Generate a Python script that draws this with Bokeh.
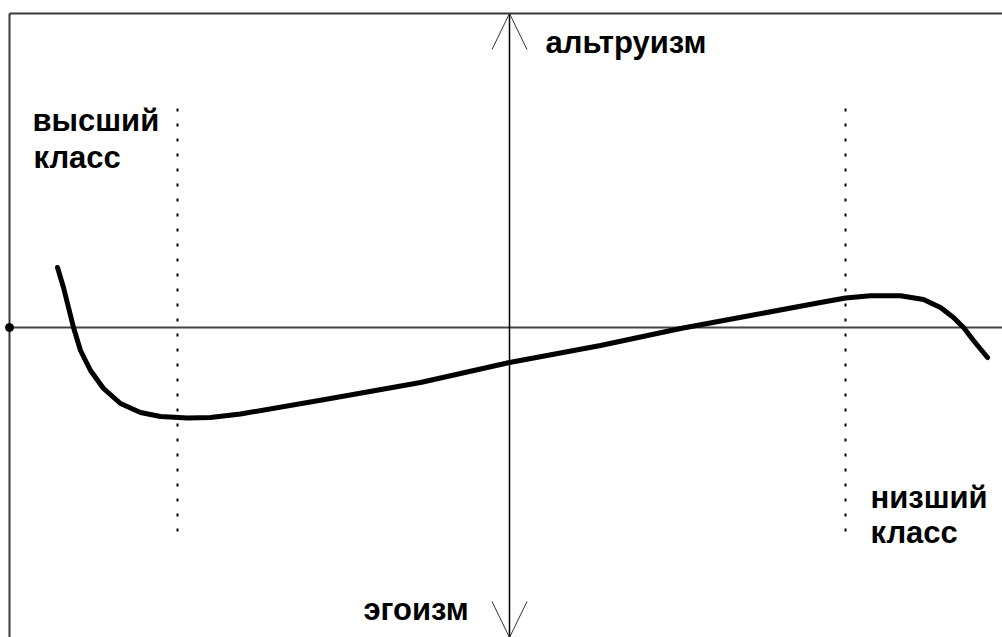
from bokeh.plotting import figure
from bokeh.models import Range1d, ColumnDataSource
from bokeh.core.properties import value
from bokeh.embed import file_html
from bokeh.resources import INLINE

# ---- data (abstract units: vertical axis at x=0, horizontal axis at y=0) ----
curve_x = [-4.52, -4.46, -4.41, -4.36, -4.29, -4.19, -4.06, -3.89, -3.69, -3.49,
           -3.22, -2.99, -2.69, -1.79, -0.89, 0.00, 0.91, 1.71, 2.41, 3.11,
           3.36, 3.61, 3.91, 4.14, 4.31, 4.44, 4.54, 4.64, 4.78]
curve_y = [0.60, 0.40, 0.20, 0.00, -0.23, -0.43, -0.61, -0.76, -0.85, -0.89,
           -0.905, -0.90, -0.865, -0.71, -0.55, -0.35, -0.18, -0.01, 0.12, 0.25,
           0.295, 0.318, 0.318, 0.28, 0.20, 0.10, 0.00, -0.13, -0.30]

class_lines_x = [-3.32, 3.36]        # upper class / lower class markers
class_lines_top = 2.19
class_lines_bottom = -2.13

frame_left = -5.00
frame_top = 3.14
axis_bottom = -3.10
axis_right = 4.93

labels = ["альтруизм", "эгоизм", "высший", "класс", "низший", "класс"]
label_x = [0.36, -1.46, -4.77, -4.76, 3.61, 3.61]
label_y = [2.85, -2.82, 2.07, 1.70, -1.70, -2.05]

arrow_half_width = 0.175
arrow_length = 0.36

# ---- figure ----
p = figure(width=1002, height=637,
           x_range=Range1d(-5.09, 4.93), y_range=Range1d(-3.10, 3.27),
           x_axis_type=None, y_axis_type=None,
           output_backend="svg", toolbar_location=None,
           min_border=0, outline_line_color=None)
p.grid.visible = False
p.background_fill_color = "white"
p.border_fill_color = "white"

# frame (top and left edges)
p.segment(x0=[frame_left, frame_left], y0=[frame_top, frame_top],
          x1=[axis_right, frame_left], y1=[frame_top, axis_bottom],
          line_color="#3a3a3a", line_width=2)

# horizontal axis with dot at the left end
p.segment(x0=[frame_left], y0=[0], x1=[axis_right], y1=[0],
          line_color="#444444", line_width=2)
p.scatter(x=[frame_left], y=[0], size=8, color="black")

# vertical axis with arrows at both ends
p.segment(x0=[0], y0=[frame_top], x1=[0], y1=[axis_bottom],
          line_color="black", line_width=1.5)
p.line(x=[-arrow_half_width, 0, arrow_half_width],
       y=[frame_top - arrow_length, frame_top, frame_top - arrow_length],
       line_color="#333333", line_width=1)
p.line(x=[-arrow_half_width, 0, arrow_half_width],
       y=[axis_bottom + arrow_length, axis_bottom, axis_bottom + arrow_length],
       line_color="#333333", line_width=1)

# dotted class markers
p.segment(x0=class_lines_x, y0=[class_lines_top] * 2,
          x1=class_lines_x, y1=[class_lines_bottom] * 2,
          line_color="black", line_width=2, line_dash="3 12")

# curve
p.line(x=curve_x, y=curve_y, line_color="black", line_width=5,
       line_join="round", line_cap="round")

# labels
src = ColumnDataSource(dict(x=label_x, y=label_y, text=labels))
p.text(x="x", y="y", text="text", source=src,
       text_font=value("Liberation Sans"), text_font_style="bold",
       text_font_size="31px", text_color="black",
       text_baseline="alphabetic", text_align="left")

open("out.html", "w").write(file_html(p, INLINE))
